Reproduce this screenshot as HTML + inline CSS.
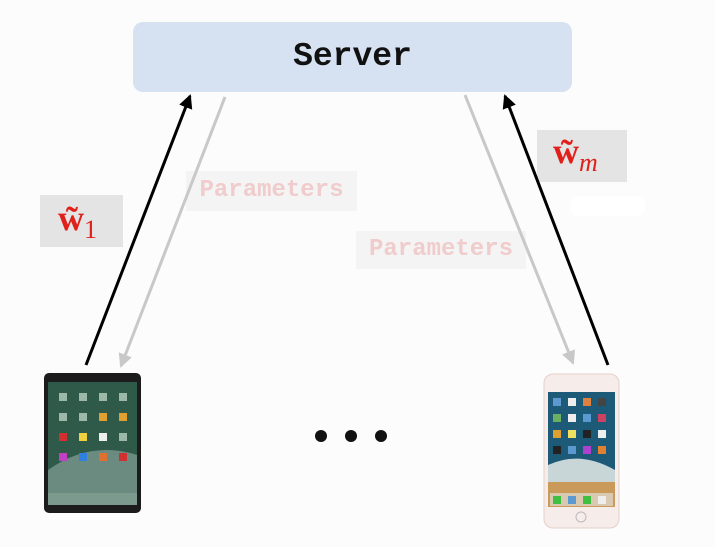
<!DOCTYPE html>
<html><head><style>
body{margin:0;width:715px;height:547px;background:#fcfcfc;position:relative;overflow:hidden;font-family:"Liberation Mono",monospace}
.a{position:absolute}
.srv{left:133px;top:22px;width:439px;height:70px;background:#d6e1f1;border-radius:10px;font-weight:bold;font-size:33px;text-align:center;line-height:70px;color:#111}
.par{background:#f4f4f4;color:#f0cccc;font-size:24px;font-weight:bold;text-align:center}
.w{background:#e4e4e4;color:#e0201a;font-family:"Liberation Serif",serif;font-weight:bold;font-size:36px}
</style></head><body>
<div class="a srv">Server</div>
<div class="a par" style="left:186px;top:171px;width:171px;height:40px;line-height:40px">Parameters</div>
<div class="a par" style="left:356px;top:231px;width:170px;height:38px;line-height:38px">Parameters</div>
<div class="a w" style="left:40px;top:195px;width:83px;height:52px;"><span style="position:absolute;left:18px;top:2px">w̃<sub style="font-size:26px;font-weight:normal">1</sub></span></div>
<div class="a w" style="left:537px;top:130px;width:90px;height:52px;"><span style="position:absolute;left:16px;top:0px">w̃<sub style="font-size:26px;font-style:italic;font-weight:normal">m</sub></span></div>
<div class="a" style="left:570px;top:196px;width:75px;height:20px;background:#fff;border-radius:8px"></div>
<svg class="a" style="left:0;top:0" width="715" height="547">
<defs>
<marker id="g" markerWidth="14" markerHeight="14" refX="12" refY="7" orient="auto" markerUnits="userSpaceOnUse"><path d="M0,0L14,7L0,14z" fill="#c8c8c8"/></marker>
<marker id="k2" markerWidth="14" markerHeight="14" refX="12" refY="7" orient="auto" markerUnits="userSpaceOnUse"><path d="M0,0L14,7L0,14z" fill="#000"/></marker>
</defs>
<line x1="86" y1="365" x2="190" y2="96" stroke="#000" stroke-width="3" marker-end="url(#k2)"/>
<line x1="225" y1="97" x2="121" y2="366" stroke="#c8c8c8" stroke-width="3" marker-end="url(#g)"/>
<line x1="465" y1="95" x2="573" y2="363" stroke="#c8c8c8" stroke-width="3" marker-end="url(#g)"/>
<line x1="608" y1="365" x2="505" y2="96" stroke="#000" stroke-width="3" marker-end="url(#k2)"/>
<circle cx="321" cy="436" r="6" fill="#111"/><circle cx="351" cy="436" r="6" fill="#111"/><circle cx="381" cy="436" r="6" fill="#111"/>
<!-- iPad -->
<rect x="44" y="373" width="97" height="140" rx="5" fill="#1c1c1c"/>
<rect x="48" y="382" width="89" height="123" fill="#2f5a4a"/>
<path d="M48,470 Q90,440 137,455 L137,505 L48,505z" fill="#6b8a80"/>
<rect x="48" y="493" width="89" height="12" fill="#7d9a8e"/>
<g fill="#9bb8a8">
<rect x="59" y="393" width="8" height="8"/><rect x="79" y="393" width="8" height="8"/><rect x="99" y="393" width="8" height="8"/><rect x="119" y="393" width="8" height="8"/>
<rect x="59" y="413" width="8" height="8"/><rect x="79" y="413" width="8" height="8"/><rect x="99" y="413" width="8" height="8" fill="#e0a030"/><rect x="119" y="413" width="8" height="8" fill="#e0a030"/>
<rect x="59" y="433" width="8" height="8" fill="#d03030"/><rect x="79" y="433" width="8" height="8" fill="#f0d040"/><rect x="99" y="433" width="8" height="8" fill="#eee"/><rect x="119" y="433" width="8" height="8"/>
<rect x="59" y="453" width="8" height="8" fill="#c040c0"/><rect x="79" y="453" width="8" height="8" fill="#3080e0"/><rect x="99" y="453" width="8" height="8" fill="#e07030"/><rect x="119" y="453" width="8" height="8" fill="#d03030"/>
</g>
<!-- iPhone -->
<rect x="544" y="374" width="75" height="154" rx="9" fill="#f6ecea" stroke="#e6cfc9"/>
<rect x="548" y="392" width="67" height="115" fill="#1c5a78"/>
<path d="M548,465 Q580,450 615,470 L615,490 L548,490z" fill="#c9d6d8"/>
<rect x="548" y="482" width="67" height="25" fill="#c99a5a"/>
<rect x="550" y="493" width="63" height="13" fill="#d9c9b0"/>
<g fill="#5a9ad0">
<rect x="553" y="398" width="8" height="8"/><rect x="568" y="398" width="8" height="8" fill="#eee"/><rect x="583" y="398" width="8" height="8" fill="#e08040"/><rect x="598" y="398" width="8" height="8" fill="#444"/>
<rect x="553" y="414" width="8" height="8" fill="#6ab060"/><rect x="568" y="414" width="8" height="8" fill="#eee"/><rect x="583" y="414" width="8" height="8"/><rect x="598" y="414" width="8" height="8" fill="#d04060"/>
<rect x="553" y="430" width="8" height="8" fill="#e0a030"/><rect x="568" y="430" width="8" height="8" fill="#f0e060"/><rect x="583" y="430" width="8" height="8" fill="#222"/><rect x="598" y="430" width="8" height="8" fill="#eee"/>
<rect x="553" y="446" width="8" height="8" fill="#222"/><rect x="568" y="446" width="8" height="8"/><rect x="583" y="446" width="8" height="8" fill="#b040d0"/><rect x="598" y="446" width="8" height="8" fill="#e08030"/>
<rect x="553" y="496" width="8" height="8" fill="#40c040"/><rect x="568" y="496" width="8" height="8"/><rect x="583" y="496" width="8" height="8" fill="#40c040"/><rect x="598" y="496" width="8" height="8" fill="#eee"/>
</g>
<circle cx="581" cy="517" r="5" fill="none" stroke="#bbb"/>
</svg>
</body></html>
